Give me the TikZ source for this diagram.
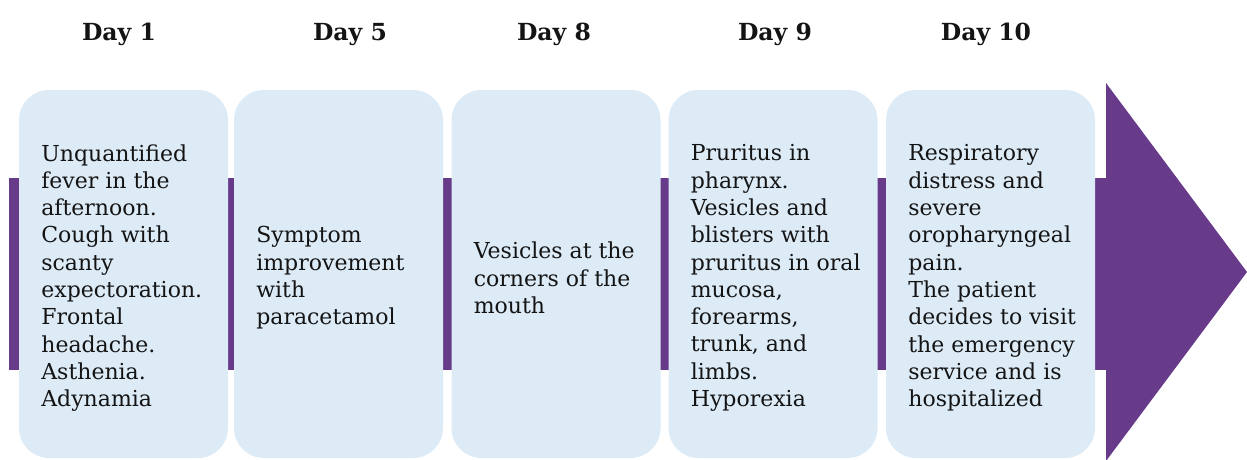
\documentclass[tikz,border=0pt]{standalone}
\usepackage{fontspec}
\setmainfont{DejaVu Serif}
\definecolor{bandpurple}{HTML}{673A8A}
\definecolor{boxblue}{HTML}{DDEBF7}
\definecolor{txt}{HTML}{141414}
\begin{document}
\begin{tikzpicture}[x=1pt,y=1pt,
  evbox/.style={fill=boxblue, draw=none, rounded corners=30pt, minimum width=209pt, minimum height=368pt, inner sep=0pt},
  evtext/.style={text=txt, align=left, anchor=west, font=\fontsize{22}{27.3}\selectfont},
  daylbl/.style={text=txt, font=\bfseries\fontsize{23.5}{28}\selectfont, anchor=base}]
\useasboundingbox (0,0) rectangle (1247,-459);
\fill[white] (0,0) rectangle (1247,-459);
% band and arrowhead
\fill[bandpurple] (9,-178) rectangle (1107,-370);
\fill[bandpurple] (1106,-83) -- (1247,-272) -- (1106,-461) -- cycle;
% boxes
\node[evbox] (b1) at (123.5,-274) {};
\node[evbox] (b2) at (338.5,-274) {};
\node[evbox] (b3) at (556,-274) {};
\node[evbox] (b4) at (773,-274) {};
\node[evbox] (b5) at (990.5,-274) {};
% day labels
\node[daylbl] (d1) at (119,-40) {Day 1};
\node[daylbl] (d5) at (350,-40) {Day 5};
\node[daylbl] (d8) at (554,-40) {Day 8};
\node[daylbl] (d9) at (775,-40) {Day 9};
\node[daylbl] (d10) at (986,-40) {Day 10};
% texts
\node[evtext] (t1) at ([xshift=19pt,yshift=-4pt]b1.west) {Unquantified\\fever in the\\afternoon.\\Cough with\\scanty\\expectoration.\\Frontal\\headache.\\Asthenia.\\Adynamia};
\node[evtext] (t2) at ([xshift=19pt,yshift=-4pt]b2.west) {Symptom\\improvement\\with\\paracetamol};
\node[evtext] (t3) at ([xshift=19pt,yshift=-4pt]b3.west) {Vesicles at the\\corners of the\\mouth};
\node[evtext] (t4) at ([xshift=19pt,yshift=-4pt]b4.west) {Pruritus in\\pharynx.\\Vesicles and\\blisters with\\pruritus in oral\\mucosa,\\forearms,\\trunk, and\\limbs.\\Hyporexia};
\node[evtext] (t5) at ([xshift=19pt,yshift=-4pt]b5.west) {Respiratory\\distress and\\severe\\oropharyngeal\\pain.\\The patient\\decides to visit\\the emergency\\service and is\\hospitalized};
\end{tikzpicture}
\end{document}
